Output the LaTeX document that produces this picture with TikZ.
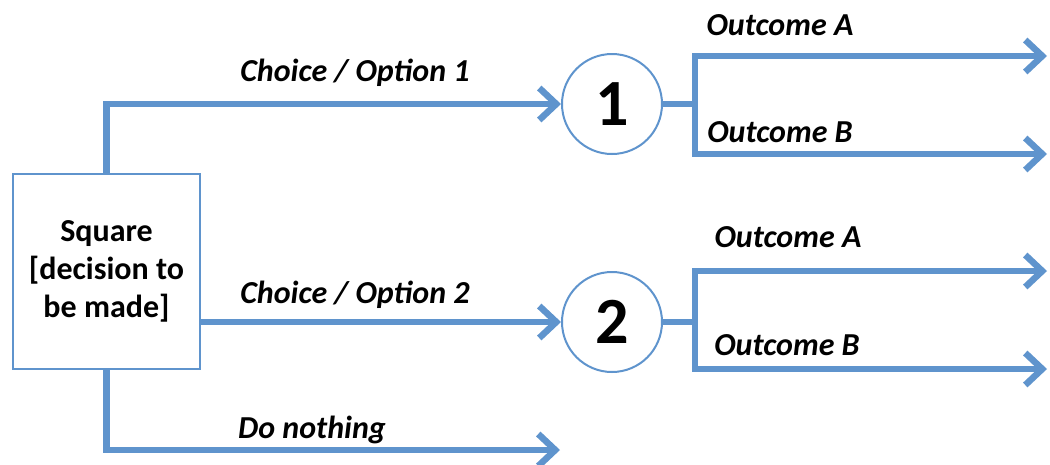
\documentclass[tikz,border=0pt]{standalone}
\usepackage{fontspec}
\setmainfont{Carlito}
\usetikzlibrary{arrows.meta}
\definecolor{linkblue}{RGB}{95,148,205}
\begin{document}
\begin{tikzpicture}[x=1pt,y=-1pt,
  conn/.style={draw=linkblue,line width=6.5pt},
  tipped/.style={conn,-{Straight Barb[length=17pt,width=32pt]}},
  decision/.style={draw=linkblue,line width=2pt,fill=white,minimum width=187pt,minimum height=195pt,inner sep=0pt,align=center,
    font=\fontsize{32}{38}\selectfont\bfseries},
  chance/.style={circle,draw=linkblue,line width=2pt,fill=white,minimum size=100pt,inner sep=0pt,
    font=\fontsize{66}{66}\selectfont\bfseries},
  lbl/.style={font=\fontsize{32}{34}\selectfont\bfseries\itshape,inner sep=0pt}]
\useasboundingbox (0,0) rectangle (1050,464);
% decision box and chance circles
\node[decision] (box) at (106.5,271.5) {Square\\{}{[}decision to\\be made{]}};
\node[chance] (c1) at (612,104) {1};
\node[chance] (c2) at (612,322) {2};
% branch points and free ends
\coordinate (j1) at (695,104);
\coordinate (j2) at (695,322);
\coordinate (a1) at (1047,56);
\coordinate (b1) at (1047,154);
\coordinate (a2) at (1047,271);
\coordinate (b2) at (1047,369);
\coordinate (dn) at (560,450);
% choices from the decision
\draw[tipped] (box.north) |- (c1.west);
\draw[tipped] (box.east |- c2) -- (c2.west);
\draw[tipped] (box.south) |- (dn);
% outcomes of each chance node
\draw[conn] (c1.east) -- (j1);
\draw[tipped] (j1) |- (a1);
\draw[tipped] (j1) |- (b1);
\draw[conn] (c2.east) -- (j2);
\draw[tipped] (j2) |- (a2);
\draw[tipped] (j2) |- (b2);
% labels
\node[lbl] (l1) at (355,73) {Choice / Option 1};
\node[lbl] (l2) at (355,295) {Choice / Option 2};
\node[lbl] (l3) at (312,430) {Do nothing};
\node[lbl] (oa1) at (780,25) {Outcome A};
\node[lbl] (ob1) at (780,132) {Outcome B};
\node[lbl] (oa2) at (788,237) {Outcome A};
\node[lbl] (ob2) at (787,345) {Outcome B};
\end{tikzpicture}
\end{document}
